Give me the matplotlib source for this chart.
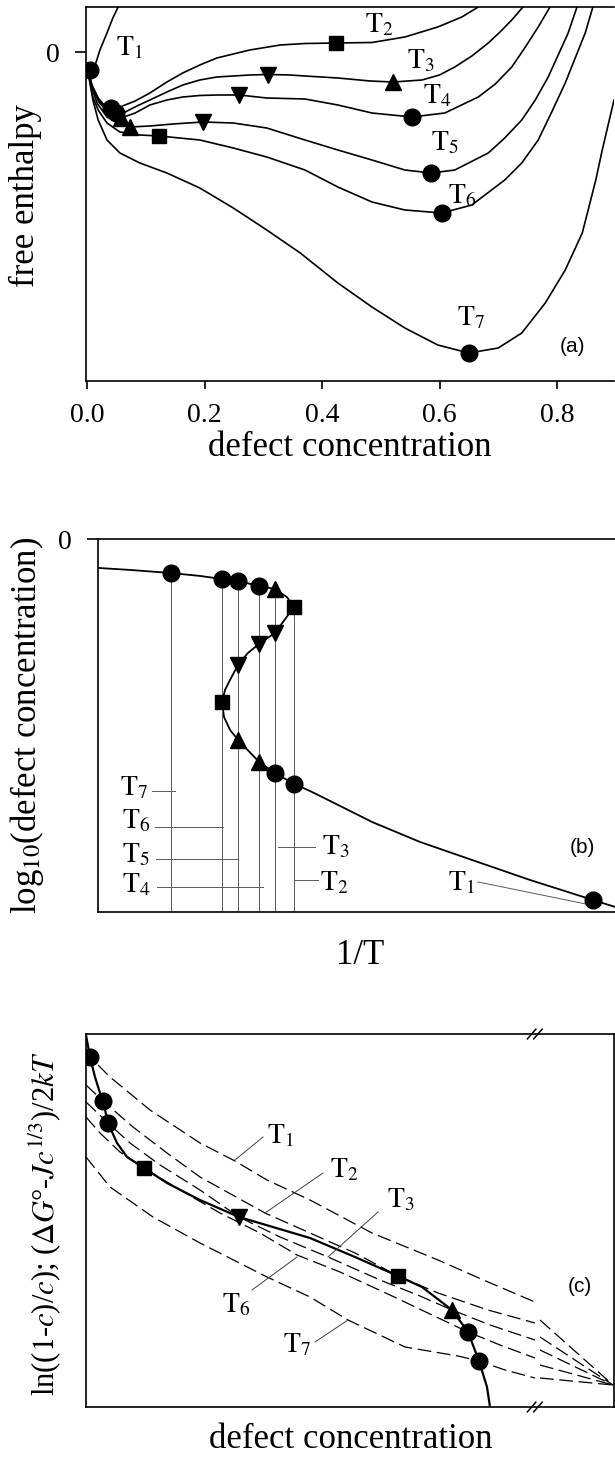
import matplotlib.pyplot as plt

plt.rcParams['font.family'] = ['Liberation Serif', 'DejaVu Serif']
plt.rcParams['mathtext.fontset'] = 'stix'

# ---------------- (a) free enthalpy vs defect concentration ----------------
a_T1_c = [0.0, 0.005, 0.014, 0.022, 0.034, 0.044, 0.053]
a_T1_g = [-0.14, -0.18, -0.13, 0.02, 0.19, 0.34, 0.45]

a_T2_c = [0.0, 0.0085, 0.019, 0.029, 0.041, 0.056, 0.082, 0.107, 0.136, 0.163, 0.192,
          0.221, 0.277, 0.329, 0.371, 0.424, 0.485, 0.541, 0.597, 0.638, 0.666]
a_T2_g = [-0.14, -0.33, -0.46, -0.53, -0.56, -0.55, -0.49, -0.41, -0.30, -0.21, -0.13,
          -0.06, 0.02, 0.07, 0.085, 0.09, 0.095, 0.15, 0.25, 0.35, 0.45]

a_T3_c = [0.0, 0.0085, 0.020, 0.034, 0.049, 0.065, 0.085, 0.107, 0.136, 0.163, 0.192,
          0.221, 0.277, 0.308, 0.346, 0.371, 0.427, 0.482, 0.521, 0.570, 0.600, 0.626,
          0.655, 0.683, 0.703, 0.723, 0.742]
a_T3_g = [-0.14, -0.34, -0.48, -0.57, -0.61, -0.60, -0.54, -0.48, -0.40, -0.33, -0.28,
          -0.25, -0.23, -0.225, -0.23, -0.24, -0.26, -0.29, -0.30, -0.28, -0.23, -0.15,
          -0.04, 0.09, 0.20, 0.32, 0.45]

a_T4_c = [0.0, 0.0085, 0.020, 0.036, 0.058, 0.082, 0.107, 0.136, 0.163, 0.192, 0.221,
          0.259, 0.306, 0.371, 0.427, 0.485, 0.553, 0.609, 0.666, 0.695, 0.723, 0.745,
          0.768, 0.788]
a_T4_g = [-0.14, -0.35, -0.50, -0.60, -0.66, -0.61, -0.53, -0.48, -0.45, -0.435, -0.43,
          -0.43, -0.46, -0.47, -0.53, -0.61, -0.65, -0.61, -0.45, -0.32, -0.15, 0.04,
          0.25, 0.45]

a_T5_c = [0.0, 0.0085, 0.017, 0.034, 0.056, 0.073, 0.107, 0.146, 0.197, 0.249, 0.306,
          0.371, 0.427, 0.485, 0.541, 0.586, 0.626, 0.683, 0.711, 0.740, 0.763, 0.785,
          0.802, 0.819, 0.834]
a_T5_g = [-0.14, -0.36, -0.51, -0.65, -0.72, -0.75, -0.74, -0.72, -0.70, -0.71, -0.76,
          -0.88, -0.98, -1.08, -1.18, -1.21, -1.18, -1.01, -0.86, -0.68, -0.48, -0.25,
          -0.03, 0.19, 0.45]

a_T6_c = [0.0, 0.010, 0.019, 0.034, 0.056, 0.090, 0.123, 0.192, 0.249, 0.306, 0.371,
          0.427, 0.485, 0.541, 0.604, 0.655, 0.711, 0.740, 0.768, 0.791, 0.814, 0.831,
          0.848, 0.861]
a_T6_g = [-0.14, -0.45, -0.58, -0.71, -0.80, -0.83, -0.84, -0.88, -0.96, -1.05, -1.18,
          -1.35, -1.50, -1.58, -1.61, -1.53, -1.28, -1.11, -0.88, -0.60, -0.31, -0.06,
          0.19, 0.45]

a_T7_c = [0.0, 0.005, 0.010, 0.019, 0.034, 0.056, 0.090, 0.136, 0.192, 0.249, 0.306,
          0.363, 0.427, 0.485, 0.541, 0.597, 0.650, 0.700, 0.740, 0.780, 0.814, 0.843,
          0.853, 0.866, 0.877, 0.887, 0.897]
a_T7_g = [-0.14, -0.31, -0.48, -0.68, -0.88, -1.01, -1.11, -1.21, -1.36, -1.56, -1.78,
          -2.01, -2.31, -2.55, -2.76, -2.93, -3.01, -2.96, -2.81, -2.51, -2.18, -1.81,
          -1.58, -1.28, -0.98, -0.73, -0.48]

a_circ_c = [0.005, 0.041, 0.049, 0.553, 0.586, 0.604, 0.650]
a_circ_g = [-0.18, -0.56, -0.61, -0.65, -1.21, -1.61, -3.01]
a_sq_c = [0.424, 0.123]
a_sq_g = [0.09, -0.84]
a_dn_c = [0.308, 0.259, 0.197]
a_dn_g = [-0.225, -0.43, -0.70]
a_up_c = [0.521, 0.058, 0.073]
a_up_g = [-0.30, -0.66, -0.75]

a_lab = ['1', '2', '3', '4', '5', '6', '7']
a_lab_c = [0.049, 0.473, 0.545, 0.572, 0.586, 0.614, 0.630]
a_lab_g = [-0.03, 0.20, -0.16, -0.51, -0.98, -1.51, -2.73]

# ---------------- (b) log10(c) vs 1/T ----------------
b_x = [0.0, 0.32, 0.73, 1.02, 1.24, 1.40, 1.61, 1.77, 1.89, 1.96, 1.85, 1.77, 1.61,
       1.50, 1.40, 1.32, 1.27, 1.24, 1.26, 1.32, 1.40, 1.61, 1.77, 1.96, 2.12, 2.42,
       2.74, 3.22, 3.74, 4.32, 4.95, 5.17]
b_y = [-0.159, -0.170, -0.187, -0.203, -0.220, -0.231, -0.258, -0.275, -0.320, -0.374,
       -0.456, -0.516, -0.577, -0.626, -0.692, -0.775, -0.830, -0.896, -0.978, -1.049,
       -1.104, -1.225, -1.286, -1.346, -1.385, -1.467, -1.555, -1.665, -1.764, -1.874,
       -1.984, -2.022]

b_circ_x = [0.73, 1.24, 1.40, 1.61, 1.77, 1.96, 4.95]
b_circ_y = [-0.187, -0.220, -0.231, -0.258, -1.286, -1.346, -1.984]
b_up_x = [1.77, 1.40, 1.61]
b_up_y = [-0.275, -1.104, -1.225]
b_sq_x = [1.96, 1.24]
b_sq_y = [-0.374, -0.896]
b_dn_x = [1.77, 1.61, 1.40]
b_dn_y = [-0.516, -0.577, -0.692]

b_vert_x = [0.73, 1.24, 1.40, 1.61, 1.77, 1.96]
b_vert_top = [-0.187, -0.220, -0.231, -0.258, -0.275, -0.374]

b_lab = ['7', '6', '5', '4', '3', '2', '1']
b_lab_x = [0.22, 0.24, 0.24, 0.24, 2.24, 2.22, 3.50]
b_lab_y = [-1.407, -1.588, -1.775, -1.945, -1.736, -1.929, -1.929]
b_lead_x0 = [0.54, 0.57, 0.58, 0.59, 1.80, 1.97, 3.80]
b_lead_x1 = [0.77, 1.25, 1.40, 1.65, 2.17, 2.20, 4.87]
b_lead_y0 = [-1.385, -1.582, -1.758, -1.912, -1.692, -1.874, -1.885]
b_lead_y1 = [-1.385, -1.582, -1.758, -1.912, -1.692, -1.874, -2.005]

# ---------------- (c) ln((1-c)/c) and (dG - J c^1/3)/2kT ----------------
c_x = [0.00, 0.04, 0.09, 0.14, 0.17, 0.22, 0.31, 0.41, 0.58, 0.81, 1.14, 1.53, 2.24,
       2.69, 3.12, 3.36, 3.66, 3.82, 3.93, 4.01, 4.04]
c_y = [3.50, 3.28, 3.08, 2.92, 2.84, 2.62, 2.42, 2.28, 2.17, 2.02, 1.85, 1.68, 1.47,
       1.28, 1.09, 0.98, 0.75, 0.53, 0.24, -0.02, -0.22]

c_circ_x = [0.04, 0.17, 0.22, 3.82, 3.93]
c_circ_y = [3.28, 2.84, 2.62, 0.53, 0.24]
c_sq_x = [0.58, 3.12]
c_sq_y = [2.17, 1.09]
c_dn_x = [1.53]
c_dn_y = [1.68]
c_up_x = [3.66]
c_up_y = [0.75]

c_T1_x = [0.00, 0.04, 0.24, 0.64, 1.14, 1.49, 1.81, 2.24, 2.86, 3.52, 4.02, 4.49]
c_T1_y = [3.35, 3.28, 3.08, 2.75, 2.42, 2.24, 2.05, 1.85, 1.52, 1.25, 1.03, 0.83]
c_T2_x = [0.00, 0.17, 0.47, 0.81, 1.14, 1.79, 2.24, 2.69, 3.12, 3.52, 4.02, 4.49]
c_T2_y = [3.00, 2.84, 2.58, 2.32, 2.08, 1.72, 1.52, 1.32, 1.09, 0.92, 0.75, 0.62]
c_T3_x = [0.00, 0.22, 0.44, 0.74, 1.14, 1.53, 1.94, 2.42, 2.94, 3.34, 3.66, 4.04, 4.49]
c_T3_y = [2.83, 2.62, 2.42, 2.20, 1.95, 1.68, 1.48, 1.28, 1.05, 0.89, 0.75, 0.60, 0.45]
c_T6_x = [0.00, 0.14, 0.34, 0.58, 0.94, 1.34, 1.74, 2.11, 2.54, 3.04, 3.44, 3.82, 4.14, 4.49]
c_T6_y = [2.68, 2.52, 2.33, 2.17, 1.95, 1.72, 1.52, 1.30, 1.13, 0.90, 0.71, 0.53, 0.40, 0.27]
c_T7_x = [0.00, 0.24, 0.67, 1.14, 1.81, 2.24, 2.62, 3.19, 3.72, 3.93, 4.19, 4.49]
c_T7_y = [2.28, 1.98, 1.68, 1.42, 1.08, 0.88, 0.65, 0.38, 0.29, 0.24, 0.15, 0.07]
# beyond the axis break all dashed lines meet where the right side is zero
c_tail_x0 = 4.54
c_tail_y0 = [0.65, 0.48, 0.35, 0.20, 0.07]
c_meet_x = 5.27
c_meet_y = 0.0

c_lab = ['1', '2', '3', '6', '7']
c_lab_x = [1.81, 2.44, 3.01, 1.36, 1.97]
c_lab_y = [2.42, 2.08, 1.78, 0.73, 0.33]
c_lead_x0 = [1.77, 2.37, 2.92, 1.66, 2.29]
c_lead_y0 = [2.48, 2.12, 1.73, 0.95, 0.43]
c_lead_x1 = [1.49, 1.79, 2.42, 2.11, 2.62]
c_lead_y1 = [2.25, 1.72, 1.28, 1.28, 0.65]


def fpos(x, y):
    # pixel position in the 615 x 1458 picture -> figure fraction
    return x / 615, 1 - y / 1458


def markers(ax, cx, cy, sx, sy, dx, dy, ux, uy):
    ax.plot(cx, cy, 'o', color='black', ms=12, zorder=5)
    ax.plot(sx, sy, 's', color='black', ms=10.5, zorder=5)
    ax.plot(dx, dy, 'v', color='black', ms=11.5, zorder=5)
    ax.plot(ux, uy, '^', color='black', ms=11.5, zorder=5)


fig = plt.figure(figsize=(6.15, 14.58), dpi=100)

# ---- panel (a)
ax = fig.add_axes([86 / 615, 1 - 381 / 1458, 528 / 615, 374 / 1458])
curves = [(a_T1_c, a_T1_g), (a_T2_c, a_T2_g), (a_T3_c, a_T3_g), (a_T4_c, a_T4_g),
          (a_T5_c, a_T5_g), (a_T6_c, a_T6_g), (a_T7_c, a_T7_g)]
for cc, gg in curves:
    ax.plot(cc, gg, color='black', lw=1.2)
markers(ax, a_circ_c, a_circ_g, a_sq_c, a_sq_g, a_dn_c, a_dn_g, a_up_c, a_up_g)
for s, x, y in zip(a_lab, a_lab_c, a_lab_g):
    ax.text(x, y, r'$\mathrm{T}_{%s}$' % s, fontsize=20, ha='left', va='baseline')
ax.text(0.826, -2.95, '(a)', family='Liberation Sans', fontsize=15, ha='center', va='center')
ax.set_xlim(-0.0017, 0.897)
ax.set_ylim(-3.29, 0.45)
ax.set_xticks([0.0, 0.2, 0.4, 0.6, 0.8])
ax.set_xticklabels(['0.0', '0.2', '0.4', '0.6', '0.8'])
ax.set_yticks([0])
ax.set_yticklabels(['0'])
ax.tick_params(axis='x', direction='out', length=6, width=1.2, labelsize=20, pad=10)
ax.tick_params(axis='y', direction='out', length=8, width=1.2, labelsize=20, pad=11)
ax.spines['right'].set_visible(False)
for sp in ['left', 'top', 'bottom']:
    ax.spines[sp].set_linewidth(1.2)

# ---- panel (b)
ax = fig.add_axes([98 / 615, 1 - 912 / 1458, 517 / 615, 373 / 1458])
ax.plot(b_x, b_y, color='black', lw=1.3)
ax.vlines(b_vert_x, -2.05, b_vert_top, color='0.35', lw=0.7)
markers(ax, b_circ_x, b_circ_y, b_sq_x, b_sq_y, b_dn_x, b_dn_y, b_up_x, b_up_y)
for x0, x1, y0, y1 in zip(b_lead_x0, b_lead_x1, b_lead_y0, b_lead_y1):
    ax.plot([x0, x1], [y0, y1], color='0.35', lw=0.7)
for s, x, y in zip(b_lab, b_lab_x, b_lab_y):
    ax.text(x, y, r'$\mathrm{T}_{%s}$' % s, fontsize=20, ha='left', va='baseline')
ax.text(4.84, -1.698, '(b)', family='Liberation Sans', fontsize=15, ha='center', va='center')
ax.set_xlim(0, 5.17)
ax.set_ylim(-2.05, 0)
ax.set_xticks([])
ax.set_yticks([0])
ax.set_yticklabels(['0'])
ax.tick_params(axis='y', direction='out', length=8, width=1.2, labelsize=20, pad=11)
ax.spines['right'].set_visible(False)
for sp in ['left', 'top', 'bottom']:
    ax.spines[sp].set_linewidth(1.2)

# ---- panel (c)
ax = fig.add_axes([86 / 615, 1 - 1407 / 1458, 528 / 615, 373 / 1458])
dashed = [(c_T1_x, c_T1_y), (c_T2_x, c_T2_y), (c_T3_x, c_T3_y), (c_T6_x, c_T6_y),
          (c_T7_x, c_T7_y)]
for (xx, yy), y0 in zip(dashed, c_tail_y0):
    ax.plot(xx, yy, color='black', lw=0.9, ls=(0, (11, 4.5)))
    ax.plot([c_tail_x0, c_meet_x], [y0, c_meet_y], color='black', lw=0.9, ls=(0, (11, 4.5)))
ax.plot(c_x, c_y, color='black', lw=1.6)
markers(ax, c_circ_x, c_circ_y, c_sq_x, c_sq_y, c_dn_x, c_dn_y, c_up_x, c_up_y)
for x0, y0, x1, y1 in zip(c_lead_x0, c_lead_y0, c_lead_x1, c_lead_y1):
    ax.plot([x0, x1], [y0, y1], color='0.25', lw=0.7)
for s, x, y in zip(c_lab, c_lab_x, c_lab_y):
    ax.text(x, y, r'$\mathrm{T}_{%s}$' % s, fontsize=20, ha='left', va='baseline')
ax.text(4.94, 0.98, '(c)', family='Liberation Sans', fontsize=15, ha='center', va='center')
ax.set_xlim(0, 5.28)
ax.set_ylim(-0.22, 3.51)
ax.set_xticks([])
ax.set_yticks([])
for sp in ax.spines.values():
    sp.set_linewidth(1.2)
# axis break marks
for yb in (0.0, 1.0):
    for dx in (-0.006, 0.006):
        ax.plot([0.85 + dx - 0.008, 0.85 + dx + 0.008], [yb - 0.013, yb + 0.013],
                transform=ax.transAxes, color='black', lw=1.1, clip_on=False)

# ---- axis titles
fig.text(*fpos(350, 447), 'defect concentration', fontsize=25, ha='center', va='center')
fig.text(*fpos(25, 196), 'free enthalpy', fontsize=25, ha='center', va='center', rotation=90)
fig.text(*fpos(360, 955), '1/T', fontsize=25, ha='center', va='center')
fig.text(*fpos(27, 725), r'log$_{10}$(defect concentration)', fontsize=25,
         ha='center', va='center', rotation=90)
fig.text(*fpos(45, 1224), r'ln(($\mathit{1}$-$c$)/$c$); ($\Delta G$°-$Jc^{\mathit{1/3}}$)/2$kT$',
         fontsize=22, ha='center', va='center', rotation=90)
fig.text(*fpos(351, 1440), 'defect concentration', fontsize=25, ha='center', va='center')

fig.savefig('out.png', dpi=100)
